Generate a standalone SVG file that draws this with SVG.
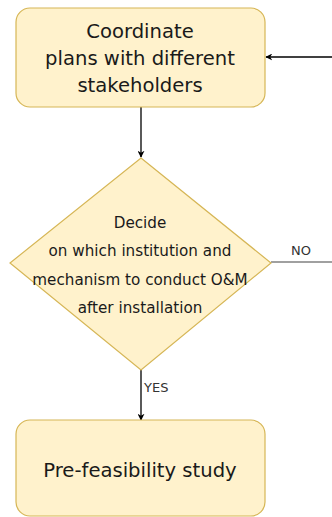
<svg xmlns="http://www.w3.org/2000/svg" width="332" height="517" viewBox="0 0 332 517">
<defs>
<style>
.box{fill:#fff2cc;stroke:#d6b656;stroke-width:1.2}
.t{font-family:"DejaVu Sans",Verdana,sans-serif;fill:#1a1a1a;text-anchor:middle}
.big{font-size:19.6px}
.mid{font-size:15.2px}
.lbl{font-family:"DejaVu Sans",Verdana,sans-serif;font-size:13px;fill:#333}
.c{fill:none;stroke:#000;stroke-width:1.3}
</style>
<marker id="ah" viewBox="0 0 10 10" refX="9" refY="5" markerWidth="7" markerHeight="7" orient="auto" markerUnits="userSpaceOnUse">
<path d="M0,0 L10,5 L0,10 L3,5 Z" fill="#000"/>
</marker>
</defs>
<g id="connectors">
<line class="c" x1="141" y1="107" x2="141" y2="157" marker-end="url(#ah)"/>
<line class="c" x1="141" y1="370" x2="141" y2="420" marker-end="url(#ah)"/>
<line class="c" x1="332" y1="57" x2="266" y2="57" marker-end="url(#ah)"/>
<line x1="271" y1="262" x2="332" y2="262" stroke="#808080" stroke-width="1.3"/>
<text class="lbl" x="291" y="255">NO</text>
<text class="lbl" x="144" y="392">YES</text>
</g>
<g id="node1">
<rect class="box" x="16" y="8" width="249" height="99" rx="14"/>
<text class="t big" x="140" y="38">Coordinate</text>
<text class="t big" x="140" y="65">plans with different</text>
<text class="t big" x="140" y="92">stakeholders</text>
</g>
<g id="node2">
<polygon class="box" points="141,158 271,263 141,370 10,263"/>
<text class="t mid" x="140" y="228">Decide</text>
<text class="t mid" x="140" y="256">on which institution and</text>
<text class="t mid" x="140" y="285">mechanism to conduct O&amp;M</text>
<text class="t mid" x="140" y="313">after installation</text>
</g>
<g id="node3">
<rect class="box" x="16" y="420" width="249" height="96" rx="14"/>
<text class="t big" x="140" y="477">Pre-feasibility study</text>
</g>
</svg>
